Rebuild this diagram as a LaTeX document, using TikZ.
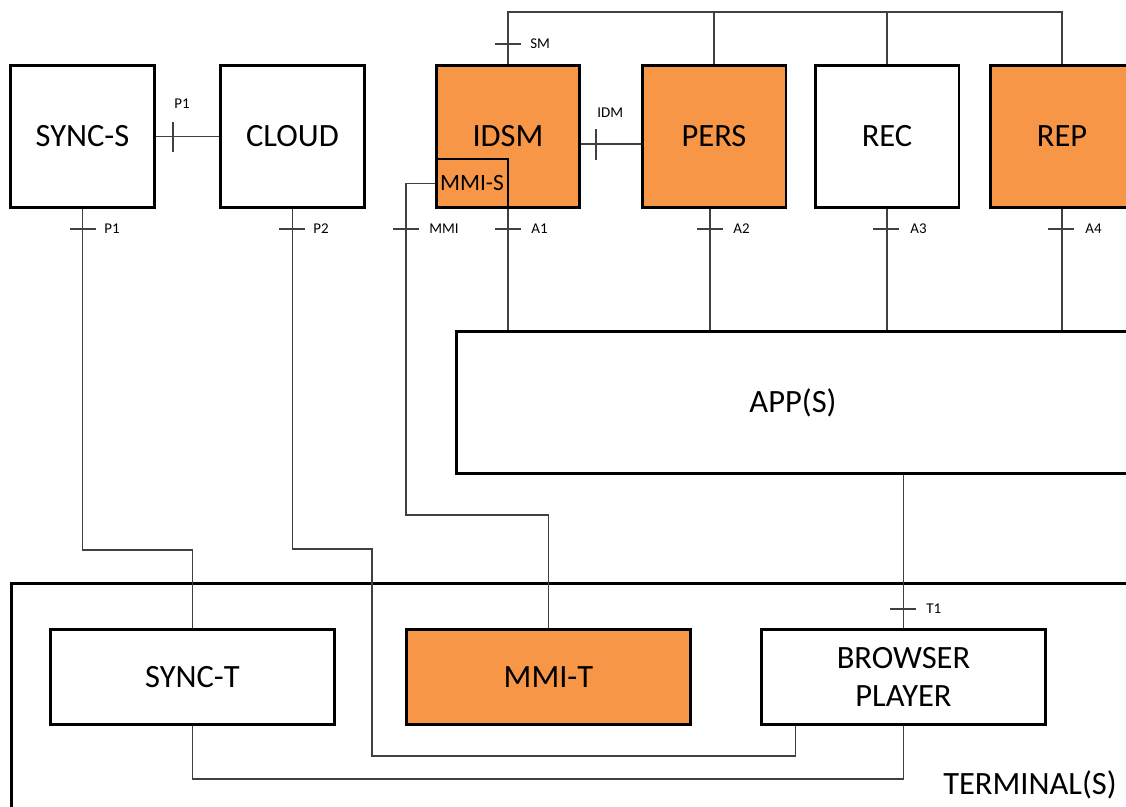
\documentclass[tikz,border=0pt]{standalone}
\usepackage{fontspec}
\setmainfont{Carlito}
\usetikzlibrary{calc}
\definecolor{boxorange}{RGB}{247,150,70}
\definecolor{wire}{RGB}{64,64,64}

\tikzset{
    block/.style={rectangle,draw,line width=1.7pt,fill=white,
        minimum width=2.88cm,minimum height=2.86cm,inner sep=0pt,
        font=\fontsize{18.5}{22}\selectfont},
    wideblock/.style={block,minimum width=5.7cm,minimum height=1.92cm},
    ticklabel/.style={anchor=west,inner sep=0pt,font=\fontsize{8.5}{10}\selectfont},
    link/.style={draw=wire,line width=0.6pt}
}

\begin{document}
\begin{tikzpicture}[x=0.02cm,y=-0.02cm]
            \useasboundingbox (0,0) rectangle (1126,807);
            \clip (0,0) rectangle (1126,807);

            % terminal frame
            \node[draw,line width=1.7pt,minimum width=22.98cm,minimum height=5.14cm] (term) at (585.5,711.5) {};
            \node[font=\fontsize{18.5}{22}\selectfont,inner sep=0pt] (termlabel) at (1030,785) {TERMINAL(S)};

            \begin{scope}[every node/.style={block}]
                \node (syncs) at (82.5,136.5) {SYNC-S};
                \node (cloud) at (292.5,136.5) {CLOUD};
                \node[fill=boxorange] (idsm) at (508,136.5) {IDSM};
                \node[fill=boxorange] (pers) at (714,136.5) {PERS};
                \node (rec) at (887,136.5) {REC};
                \node[fill=boxorange] (rep) at (1062,136.5) {REP};
                \node[fill=boxorange,minimum width=1.44cm,minimum height=0.98cm,
                    font=\fontsize{13.3}{16}\selectfont] (mmis) at (472,183.5) {MMI-S};
                \node[minimum width=13.48cm] (app) at (793,402.5) {APP(S)};
            \end{scope}

            \begin{scope}[every node/.style={wideblock}]
                \node (synct) at (192.5,677) {SYNC-T};
                \node[fill=boxorange] (mmit) at (548.5,677) {MMI-T};
                \node[align=center] (browser) at (903.5,677) {BROWSER\\PLAYER};
            \end{scope}

            % interfaces
            \coordinate (bus) at (0,12);
            \coordinate (idm) at (596,144);
            \coordinate (a2) at (710,229);
            \begin{scope}[every path/.style={link}]
                \path (syncs) -- (cloud);
                \path (idsm.east |- idm) -- (pers.west |- idm);
                \path (idsm.north) |- (bus -| rep.north) -- (rep.north);
                \path (pers.north) -- (pers.north |- bus);
                \path (rec.north) -- (rec.north |- bus);
                \path (idsm.south) -- (idsm.south |- app.north);
                \path (a2 |- pers.south) -- (a2 |- app.north);
                \path (rec.south) -- (rec.south |- app.north);
                \path (rep.south) -- (rep.south |- app.north);
                \path (browser.north |- app.south) -- (browser.north);
                \path (syncs.south) -- (syncs.south |- 0,550) -| (synct.north);
                \path (cloud.south) -- (cloud.south |- 0,549) -| (372,756)
                    -| ($(browser.south west)+(36,0)$);
                \path (mmis.west) -| (406,515) -| (mmit.north);
                \path (synct.south) -- (synct.south |- 0,779) -| (browser.south);
            \end{scope}

            % ticks
            \begin{scope}[every path/.style={link}]
                \path (173,122) -- (173,152);
                \path (idm) ++(0,-15) -- ++(0,31);
                \path (495,44) -- (521,44);
                \path (70,229) -- (96,229);
                \path (279,229) -- (305,229);
                \path (393,229) -- (419,229);
                \path (495,229) -- (521,229);
                \path (a2) ++(-13,0) -- ++(26,0);
                \path (873,229) -- (899,229);
                \path (1048,229) -- (1074,229);
                \path (890,609) -- (916,609);
            \end{scope}

            \begin{scope}[every node/.style={ticklabel}]
                \node (lp1top) at (174,104) {P1};
                \node (lidm) at (597,113) {IDM};
                \node (lsm) at (530,44) {SM};
                \node (lp1) at (104,229) {P1};
                \node (lp2) at (313,229) {P2};
                \node (lmmi) at (429,229) {MMI};
                \node (la1) at (531,229) {A1};
                \node (la2) at (733,229) {A2};
                \node (la3) at (910,229) {A3};
                \node (la4) at (1085,229) {A4};
                \node (lt1) at (926,609) {T1};
            \end{scope}
            \end{tikzpicture}
\end{document}
